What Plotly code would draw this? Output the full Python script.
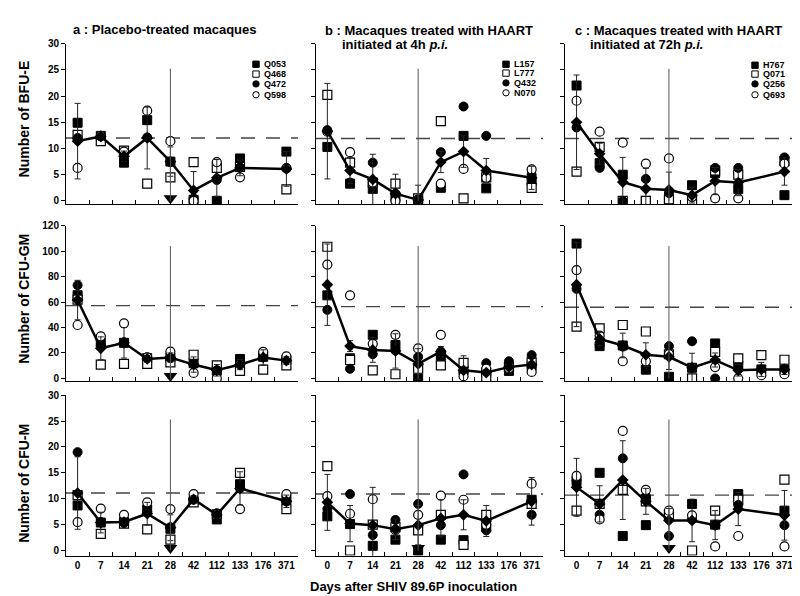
import plotly.graph_objects as go
from plotly.subplots import make_subplots

days = ["0", "7", "14", "21", "28", "42", "112", "133", "176", "371"]
assays = ["BFU-E", "CFU-GM", "CFU-M"]

animals_a = ["Q053", "Q468", "Q472", "Q598"]
animals_b = ["L157", "L777", "Q432", "N070"]
animals_c = ["H767", "Q071", "Q256", "Q693"]

# ---- BFU-E ----
a_bfu = [
    [14.9, 12.4, 7.3, 15.4, 7.5, 0.2, 0.0, 8.1, None, 9.4],
    [12.6, 11.4, 9.6, 3.3, 4.5, 7.4, 6.3, 6.5, None, 2.2],
    [12.0, 12.3, 8.0, 12.1, 7.4, 0.5, 4.0, 6.4, None, 6.3],
    [6.3, 12.4, 9.4, 17.2, 11.4, 0.0, 7.4, 4.5, None, 6.2],
]
a_bfu_mean = [11.4, 12.3, 8.5, 12.0, 7.5, 2.0, 4.4, 6.3, None, 6.1]
a_bfu_sd = [7.2, 0.5, 1.0, 5.9, 2.8, 3.6, 3.5, 1.5, None, 3.3]

b_bfu = [
    [10.3, 3.3, 2.3, 0.8, 0.0, 2.5, 12.4, 2.4, None, 3.8],
    [20.2, 7.3, 3.5, 3.3, 0.5, 15.2, 0.5, 4.5, None, 2.5],
    [13.5, 3.5, 7.3, 1.4, 0.3, 9.3, 18.0, 12.4, None, 5.0],
    [13.2, 9.3, 3.5, 0.0, 0.2, 3.3, 6.1, 4.4, None, 6.0],
]
b_bfu_mean = [13.3, 5.8, 4.1, 1.4, 0.2, 7.4, 9.4, 5.8, None, 4.4]
b_bfu_sd = [9.1, 2.5, 4.8, 3.7, 2.8, 2.0, 3.0, 2.3, None, 2.2]

c_bfu = [
    [22.0, 7.2, 5.0, 0.0, 0.0, 3.0, 5.3, 2.3, None, 1.1],
    [5.6, 10.3, 0.0, 0.0, 0.3, 0.0, 5.8, 5.0, None, 7.6],
    [14.0, 6.3, 0.0, 4.2, 1.5, 0.7, 6.3, 6.3, None, 8.3],
    [19.1, 13.2, 11.1, 7.1, 8.1, 0.8, 0.5, 0.5, None, 7.1],
]
c_bfu_mean = [15.0, 9.0, 3.6, 2.3, 2.1, 1.1, 3.8, 3.5, None, 5.6]
c_bfu_sd = [9.0, 2.0, 4.7, 3.9, 3.4, 1.5, 2.6, 2.5, None, 2.6]

# ---- CFU-GM ----
a_gm = [
    [65.4, 28.0, 28.0, 16.0, 16.5, 12.0, 6.0, 15.3, 17.0, 14.5],
    [62.0, 10.9, 11.5, 11.5, 12.7, 18.6, 10.2, 5.9, 6.9, 10.2],
    [73.3, 26.0, 28.5, 16.5, 16.0, 11.0, 6.5, 11.5, 18.0, 15.0],
    [42.0, 33.1, 43.3, 16.5, 21.1, 4.3, 0.0, 11.0, 20.9, 17.3],
]
a_gm_mean = [61.6, 23.7, 28.0, 15.3, 16.5, 10.9, 6.4, 10.9, 16.5, 14.0]
a_gm_sd = [15.5, 9.0, 12.0, 2.5, 3.5, 6.0, 4.5, 4.0, 6.0, 3.0]

b_gm = [
    [65.3, 15.8, 34.3, 26.2, 0.0, 17.8, 6.4, 5.0, 5.9, 10.0],
    [103.5, 14.5, 6.4, 3.3, 7.6, 10.2, 12.2, 0.0, 9.0, 12.7],
    [53.9, 7.6, 19.1, 22.0, 17.0, 21.1, 5.0, 12.0, 13.5, 18.3],
    [89.5, 65.3, 27.2, 34.3, 23.6, 34.3, 1.8, 7.6, 8.0, 5.1],
]
b_gm_mean = [73.7, 25.4, 22.4, 21.6, 11.4, 21.1, 6.4, 4.6, 8.9, 10.9]
b_gm_sd = [32.0, 4.3, 9.7, 13.5, 12.0, 4.0, 11.4, 2.0, 2.0, 2.0]

c_gm = [
    [106.0, 25.4, 25.9, 6.9, 1.3, 8.4, 27.5, 10.0, 7.1, 7.1],
    [40.7, 39.4, 42.0, 36.9, 19.0, 0.0, 20.8, 15.8, 18.3, 14.7],
    [70.4, 26.5, 25.0, 8.5, 25.4, 29.2, 0.0, 7.5, 7.0, 6.4],
    [85.2, 33.6, 13.5, 13.5, 19.1, 8.4, 8.9, 0.0, 2.5, 3.3],
]
c_gm_mean = [73.7, 31.0, 25.9, 18.6, 17.0, 8.4, 14.5, 6.4, 7.1, 7.1]
c_gm_sd = [33.0, 5.0, 9.7, 9.4, 10.0, 11.4, 5.5, 4.5, 5.5, 4.0]

# ---- CFU-M ----
a_m = [
    [8.7, 5.4, 5.5, 7.9, 4.2, 9.6, 6.0, 12.8, None, 9.8],
    [10.7, 3.2, 5.2, 4.1, 2.1, 9.3, 7.0, 15.0, None, 8.0],
    [19.0, 5.5, 5.3, 7.5, 4.5, 9.8, 7.2, 12.0, None, 9.5],
    [5.5, 8.1, 6.9, 9.3, 8.0, 10.9, 7.0, 8.0, None, 10.9],
]
a_m_mean = [11.1, 5.4, 5.5, 7.1, 4.4, 9.9, 6.9, 12.0, None, 9.5]
a_m_sd = [7.0, 2.0, 0.8, 2.2, 2.5, 0.7, 0.5, 3.2, None, 1.2]

b_m = [
    [6.6, 5.1, 0.9, 2.1, 0.0, 2.1, 2.0, 4.5, None, 9.8],
    [16.3, 0.0, 5.0, 4.5, 3.9, 6.9, 1.1, 6.9, None, 9.0],
    [8.0, 10.9, 3.0, 5.9, 9.0, 4.9, 14.7, 3.9, None, 6.9],
    [10.5, 7.1, 9.9, 4.0, 6.9, 10.6, 9.8, 5.0, None, 12.9],
]
b_m_mean = [9.3, 5.2, 4.9, 4.1, 4.9, 6.2, 6.9, 5.7, None, 9.5]
b_m_sd = [5.4, 3.5, 7.3, 2.0, 3.8, 3.6, 2.9, 3.0, None, 4.6]

c_m = [
    [13.4, 15.0, 2.8, 4.9, 6.6, 9.0, 5.0, 10.9, None, 7.7],
    [7.7, 9.0, 11.7, 9.5, 7.0, 0.0, 7.7, 9.8, None, 13.7],
    [13.5, 6.9, 17.8, 10.5, 2.8, 6.0, 4.9, 8.8, None, 4.9],
    [14.4, 6.0, 23.1, 11.7, 7.7, 6.8, 0.8, 2.8, None, 0.8],
]
c_m_mean = [12.2, 9.0, 13.6, 9.5, 5.8, 5.8, 4.9, 8.0, None, 6.8]
c_m_sd = [5.6, 3.5, 7.6, 2.5, 2.3, 4.1, 2.8, 3.2, None, 4.8]

# normal (baseline) levels, dashed lines
normal_bfu = [12.0, 11.9, 11.9]
normal_gm = [57.2, 56.4, 56.0]
normal_m = [11.1, 10.9, 10.7]

# vertical line at day 28 and arrow marks
stop_day = "28"
stop_line_top = [25.2, 104.0, 25.3]
arrow_y = [0.5, 2.0, 0.5]
arrow_panels = [(0, 0), (1, 0), (2, 0), (2, 1), (2, 2)]

grid = [
    [(a_bfu, a_bfu_mean, a_bfu_sd), (b_bfu, b_bfu_mean, b_bfu_sd), (c_bfu, c_bfu_mean, c_bfu_sd)],
    [(a_gm, a_gm_mean, a_gm_sd), (b_gm, b_gm_mean, b_gm_sd), (c_gm, c_gm_mean, c_gm_sd)],
    [(a_m, a_m_mean, a_m_sd), (b_m, b_m_mean, b_m_sd), (c_m, c_m_mean, c_m_sd)],
]
normals = [normal_bfu, normal_gm, normal_m]
animal_names = [animals_a, animals_b, animals_c]

W, H = 800, 596
col_px = [(58, 290), (308, 535), (557, 788)]
row_px = [(30, 193), (215, 373), (387, 550)]
y_ranges = [[-0.6, 30], [-2.3, 120], [-1, 30]]
y_dtick = [5, 20, 5]

marker_styles = [
    dict(symbol="square", size=9, color="black", line=dict(color="black", width=1)),
    dict(symbol="square", size=9, color="white", line=dict(color="black", width=1.2)),
    dict(symbol="circle", size=9, color="black", line=dict(color="black", width=1)),
    dict(symbol="circle", size=9, color="white", line=dict(color="black", width=1.2)),
]

fig = make_subplots(rows=3, cols=3)

tick_font = dict(family="Liberation Sans", size=10, color="black", weight="bold")
stop_idx = days.index(stop_day)
shapes = []

for r in range(3):
    for c in range(3):
        animals, mean, sd = grid[r][c]
        names = animal_names[c]
        for k in range(4):
            fig.add_trace(go.Scatter(
                x=days, y=animals[k], mode="markers", name=names[k],
                marker=marker_styles[k], showlegend=False,
            ), row=r + 1, col=c + 1)
        fig.add_trace(go.Scatter(
            x=days, y=mean, mode="lines+markers", connectgaps=True,
            line=dict(color="black", width=2.5),
            marker=dict(symbol="diamond", size=9, color="black"),
            error_y=dict(type="data", array=sd, color="#222", thickness=1, width=3),
            showlegend=False,
        ), row=r + 1, col=c + 1)

        idx = r * 3 + c + 1
        sx = "x" if idx == 1 else f"x{idx}"
        sy = "y" if idx == 1 else f"y{idx}"
        # dashed normal level
        shapes.append(dict(type="line", xref=f"{sx} domain", yref=sy, x0=0, x1=1,
                           y0=normals[r][c], y1=normals[r][c], layer="below",
                           line=dict(color="#444", width=1.4, dash="14px,11px")))
        # vertical line at day 28
        shapes.append(dict(type="line", xref=sx, yref=sy, x0=stop_idx, x1=stop_idx,
                           y0=0, y1=stop_line_top[r], layer="above",
                           line=dict(color="#555", width=1)))
        if (r, c) in arrow_panels:
            fig.add_trace(go.Scatter(
                x=[stop_day], y=[arrow_y[r]], mode="markers",
                marker=dict(symbol="triangle-down", size=12, color="black"),
                showlegend=False,
            ), row=r + 1, col=c + 1)

        x0, x1 = col_px[c]
        ytop, ybot = row_px[r]
        fig.update_xaxes(
            row=r + 1, col=c + 1,
            domain=[x0 / W, x1 / W],
            type="category", categoryorder="array", categoryarray=days,
            range=[-0.5, 9.5], showline=True, linecolor="black", linewidth=1,
            ticks="inside", tickson="boundaries", ticklen=4, tickcolor="black",
            showgrid=False, zeroline=False, tickangle=0,
            showticklabels=(r == 2), tickfont=tick_font,
        )
        fig.update_yaxes(
            row=r + 1, col=c + 1,
            domain=[1 - ybot / H, 1 - ytop / H],
            range=y_ranges[r], tick0=0, dtick=y_dtick[r],
            showline=True, linecolor="black", linewidth=1,
            ticks="outside", ticklen=4, tickcolor="black",
            showgrid=False, zeroline=False,
            showticklabels=(c == 0), tickfont=tick_font,
        )

annotations = []
title_font = dict(family="Liberation Sans", size=13, color="black", weight="bold")


def px_ann(text, x, y, xanchor="left", font=title_font, angle=0):
    annotations.append(dict(text=text, x=x / W, y=1 - y / H, xref="paper", yref="paper",
                            xanchor=xanchor, yanchor="middle", showarrow=False,
                            font=font, textangle=angle))


px_ann("a : Placebo-treated macaques", 63, 16)
px_ann("b : Macaques treated with HAART", 315, 17)
px_ann("initiated at 4h <i>p.i.</i>", 332, 31)
px_ann("c : Macaques treated with HAART", 565, 17)
px_ann("initiated at 72h <i>p.i.</i>", 580, 31)
px_ann("Days after SHIV 89.6P inoculation", 405, 581, xanchor="center")

row_centres = [107, 289, 477]
ytitle_font = dict(family="Liberation Sans", size=14, color="black", weight="bold")
for r in range(3):
    px_ann(f"Number of {assays[r]}", 16, row_centres[r], xanchor="center",
           font=ytitle_font, angle=-90)

# legend boxes: filled/open square, filled/open circle
legend_pos = [(248, [51, 61, 71, 82]), (498, [51, 60, 70, 80]), (747, [52, 61, 71, 82])]
legend_kinds = [("rect", "black"), ("rect", "white"), ("circle", "black"), ("circle", "white")]
lab_font = dict(family="Liberation Sans", size=9, color="black", weight="bold")
for c in range(3):
    lx, ys = legend_pos[c]
    for k in range(4):
        kind, fill = legend_kinds[k]
        half = 3.2
        shapes.append(dict(type=kind, xref="paper", yref="paper",
                           x0=(lx - half) / W, x1=(lx + half) / W,
                           y0=1 - (ys[k] + half) / H, y1=1 - (ys[k] - half) / H,
                           fillcolor=fill, line=dict(color="black", width=1)))
        px_ann(animal_names[c][k], lx + 6, ys[k], font=lab_font)

fig.update_layout(
    width=W, height=H,
    margin=dict(l=0, r=0, t=0, b=0),
    plot_bgcolor="white", paper_bgcolor="white",
    annotations=annotations, shapes=shapes,
    font=dict(family="Liberation Sans", color="black"),
)

fig.write_html("out.html")
